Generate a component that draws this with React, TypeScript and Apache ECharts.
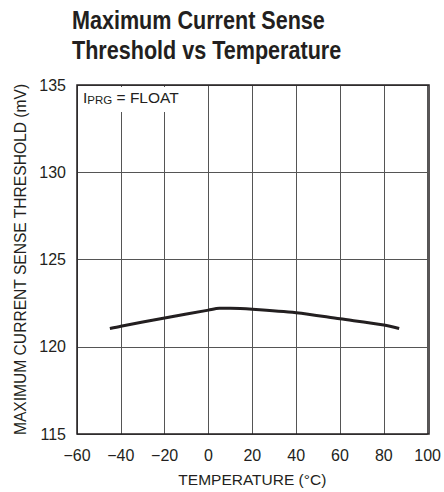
import React, { useEffect, useRef } from "react";
import * as echarts from "echarts";

const temperatures = [-45, -40, -20, 0, 5, 10, 20, 40, 60, 80, 87];
const thresholdMv = [121.05, 121.18, 121.65, 122.1, 122.2, 122.2, 122.15, 121.95, 121.6, 121.25, 121.05];
const xTicks = [-60, -40, -20, 0, 20, 40, 60, 80, 100];
const yTicks = [115, 120, 125, 130, 135];

const FONT = "'Liberation Sans', Arial, sans-serif";
const INK = "#231f20";

export default function App() {
  const ref = useRef<HTMLDivElement>(null);
  useEffect(() => {
    if (!ref.current) return;
    const chart = echarts.init(ref.current, null, { renderer: "svg" });
    chart.setOption({
      animation: false,
      backgroundColor: "#ffffff",
      grid: { left: 77, right: 15, top: 85, bottom: 58, containLabel: false },
      xAxis: {
        type: "value",
        min: xTicks[0],
        max: xTicks[xTicks.length - 1],
        interval: 20,
        name: "TEMPERATURE (°C)",
        nameLocation: "middle",
        nameGap: 37,
        nameTextStyle: { fontFamily: FONT, fontSize: 15.5, color: INK },
        axisLine: { show: false },
        axisTick: { show: false },
        axisLabel: {
          fontFamily: FONT,
          fontSize: 16,
          color: INK,
          margin: 13,
          formatter: (v: number) => (v < 0 ? "\u2212" + Math.abs(v) : String(v)),
        },
        splitLine: { show: true, lineStyle: { color: "#555555", width: 1 } },
      },
      yAxis: {
        type: "value",
        min: yTicks[0],
        max: yTicks[yTicks.length - 1],
        interval: 5,
        name: "MAXIMUM CURRENT SENSE THRESHOLD (mV)",
        nameLocation: "middle",
        nameGap: 48,
        nameTextStyle: { fontFamily: FONT, fontSize: 15.6, color: INK },
        axisLine: { show: false },
        axisTick: { show: false },
        axisLabel: { fontFamily: FONT, fontSize: 16, color: INK, margin: 11 },
        splitLine: { show: true, lineStyle: { color: "#555555", width: 1 } },
      },
      graphic: [
        {
          type: "text",
          x: 72,
          y: 5,
          scaleX: 0.83,
          style: {
            text: "Maximum Current Sense\nThreshold vs Temperature",
            fontFamily: FONT,
            fontWeight: "bold",
            fontSize: 26,
            lineHeight: 30,
            fill: INK,
          },
        },
        {
          type: "rect",
          shape: { x: 77, y: 85, width: 352, height: 349 },
          style: { fill: "none", stroke: INK, lineWidth: 1.5 },
          z: 10,
        },
        {
          type: "rect",
          shape: { x: 79, y: 87, width: 110, height: 25 },
          style: { fill: "#ffffff" },
          z: 5,
        },
        {
          type: "text",
          x: 83,
          y: 88,
          z: 6,
          style: {
            text: "{i|I}{s|PRG}{i| = FLOAT}",
            rich: {
              i: { fontFamily: FONT, fontSize: 15.5, fill: INK, lineHeight: 18 },
              s: { fontFamily: FONT, fontSize: 11.5, fill: INK, padding: [6, 0, 0, 0] },
            },
          },
        },
      ],
      series: [
        {
          type: "line",
          data: temperatures.map((t, i) => [t, thresholdMv[i]]),
          smooth: 0.3,
          symbol: "none",
          lineStyle: { color: INK, width: 3 },
          z: 8,
        },
      ],
    });
    return () => chart.dispose();
  }, []);
  return (
    <div
      ref={ref}
      style={{ position: "absolute", left: 0, top: 0, width: 444, height: 492 }}
    />
  );
}
